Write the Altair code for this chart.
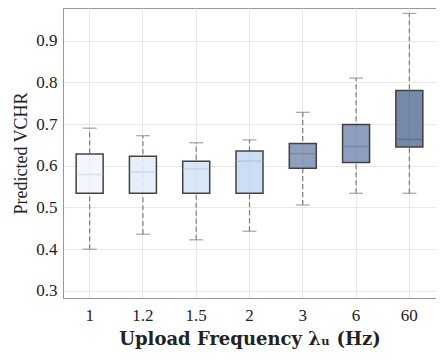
import altair as alt
import pandas as pd

freqs = ["1", "1.2", "1.5", "2", "3", "6", "60"]
whisker_low = [0.400, 0.436, 0.4225, 0.443, 0.506, 0.534, 0.534]
q1 = [0.534, 0.534, 0.534, 0.534, 0.594, 0.608, 0.645]
median = [0.579, 0.585, 0.592, 0.611, 0.629, 0.646, 0.663]
q3 = [0.628, 0.623, 0.611, 0.635, 0.653, 0.699, 0.780]
whisker_high = [0.690, 0.672, 0.655, 0.662, 0.728, 0.810, 0.965]
fill_colors = ["#f2f7fd", "#e5eefa", "#d7e6f8", "#c8dcf5", "#8897b9", "#8596ba", "#6b7fa2"]
median_colors = ["#d0dae6", "#c6d2e4", "#b9cbe2", "#aac2e2", "#6e7fa5", "#6a7ca6", "#56698f"]
y_ticks = [0.3, 0.4, 0.5, 0.6, 0.7, 0.8, 0.9]

df = pd.DataFrame({
    "freq": freqs, "lo": whisker_low, "q1": q1, "med": median,
    "q3": q3, "hi": whisker_high, "fill": fill_colors, "mcol": median_colors,
})

serif = "Liberation Serif"

x = alt.X("freq:N", sort=freqs,
          scale=alt.Scale(paddingInner=0, paddingOuter=0),
          axis=alt.Axis(title="Upload Frequency λᵤ (Hz)", labelAngle=0,
                        labelFont=serif, labelFontSize=17, labelColor="#222",
                        titleFont="DejaVu Serif", titleFontSize=18, titleFontWeight="bold",
                        titleColor="#222", titlePadding=7, labelPadding=9,
                        ticks=False, domainColor="#999", grid=True,
                        gridColor="#e8e8e8"))
yscale = alt.Scale(domain=[0.283, 0.978], nice=False, zero=False)
yaxis = alt.Axis(title="Predicted VCHR", values=y_ticks, format=".1f",
                 labelFont=serif, labelFontSize=17, labelColor="#222",
                 titleFont=serif, titleFontSize=18, titleFontWeight="normal",
                 titleColor="#222", titlePadding=5, labelPadding=6,
                 ticks=False, domainColor="#999", gridColor="#e8e8e8")

base = alt.Chart(df)

whiskers = base.mark_rule(color="#7a7a7a", strokeDash=[5, 3], strokeWidth=1.2).encode(
    x=x, y=alt.Y("lo:Q", scale=yscale, axis=yaxis), y2="hi:Q")

boxes = base.mark_bar(size=27, stroke="#333333", strokeWidth=1.5, opacity=0.92).encode(
    x=x, y=alt.Y("q1:Q", scale=yscale), y2="q3:Q",
    color=alt.Color("fill:N", scale=None))

medians = base.mark_tick(size=26, thickness=1.5).encode(
    x=x, y=alt.Y("med:Q", scale=yscale),
    color=alt.Color("mcol:N", scale=None))

caps_lo = base.mark_tick(size=14, thickness=1.3, color="#888888").encode(
    x=x, y=alt.Y("lo:Q", scale=yscale))
caps_hi = base.mark_tick(size=14, thickness=1.3, color="#888888").encode(
    x=x, y=alt.Y("hi:Q", scale=yscale))

chart = alt.layer(whiskers, boxes, medians, caps_lo, caps_hi).properties(
    width=373, height=290,
    autosize=alt.AutoSizeParams(type="none"),
    padding={"left": 55, "top": 0, "right": 0, "bottom": 52},
    background="white",
).configure_view(stroke="#999999", strokeWidth=1)

chart.save("out.html", embed_options={"renderer": "svg", "actions": False})
